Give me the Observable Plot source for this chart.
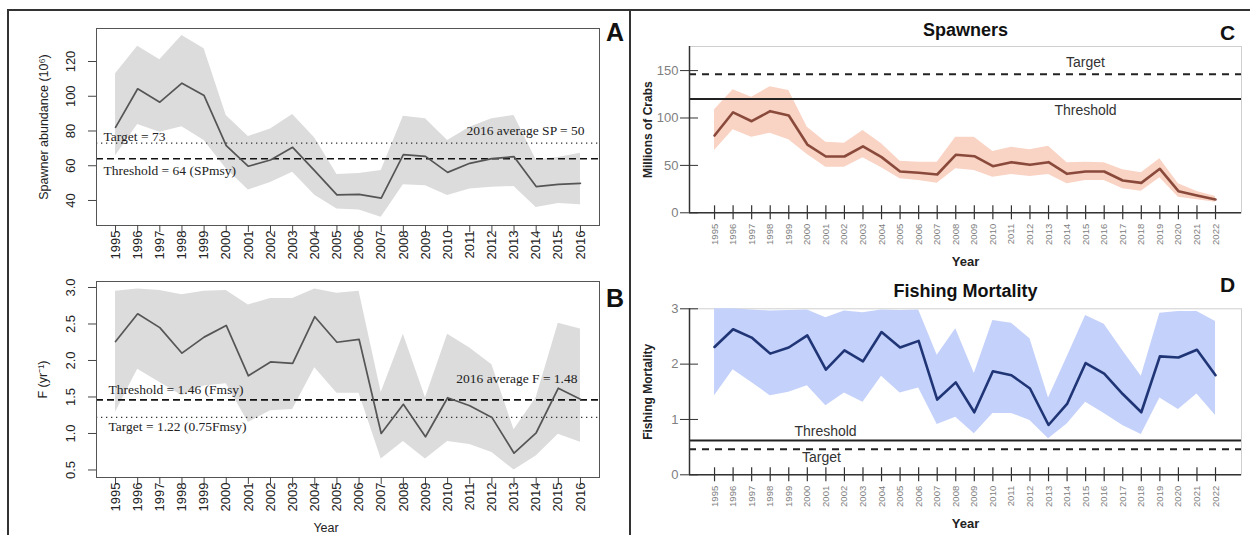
<!DOCTYPE html>
<html>
<head>
<meta charset="utf-8">
<script src="https://cdn.jsdelivr.net/npm/d3@7"></script>
<script src="https://cdn.jsdelivr.net/npm/@observablehq/plot@0.6"></script>
<style>
  html, body { margin: 0; padding: 0; background: #fff; }
  #root { position: relative; width: 1250px; height: 535px; overflow: hidden; background: #fff; font-family: "Liberation Sans", Arial, sans-serif; }
  .abs { position: absolute; }
  .bar { position: absolute; background: #333; }
  .plab { position: absolute; font-weight: bold; color: #111; line-height: 1; }
</style>
</head>
<body>
<div id="root">
  <div class="bar" style="left:7px;top:9px;width:1243px;height:2px"></div>
  <div class="bar" style="left:7px;top:9px;width:2px;height:526px"></div>
  <div class="bar" style="left:629px;top:9px;width:2px;height:526px"></div>
  <div id="pA" class="abs" style="left:0;top:0"></div>
  <div id="pB" class="abs" style="left:0;top:260px"></div>
  <div id="pC" class="abs" style="left:630px;top:0"></div>
  <div id="pD" class="abs" style="left:630px;top:268px"></div>
  <div class="plab" style="left:606px;top:20px;font-size:25px">A</div>
  <div class="plab" style="left:606px;top:286px;font-size:25px">B</div>
  <div class="plab" style="left:1220px;top:22px;font-size:21px">C</div>
  <div class="plab" style="left:1220px;top:274px;font-size:21px">D</div>
</div>
<script>
// ---------- data ----------
const yearsAB = [1995,1996,1997,1998,1999,2000,2001,2002,2003,2004,2005,2006,2007,2008,2009,2010,2011,2012,2013,2014,2015,2016];
const spawnA   = [82.1,104.3,96.6,107.5,100.4,71.6,59.7,63.3,70.6,57.0,43.2,43.5,41.4,66.4,65.4,56.2,61.4,64.1,65.2,48.0,49.3,49.9];
const spawnAHi = [112.9,128.8,121.0,135.0,127.3,88.9,76.8,81.2,89.5,76.0,55.0,55.6,57.2,88.5,87.0,74.5,82.1,87.0,88.9,63.3,64.8,67.2];
const spawnALo = [65.8,83.7,79.3,82.5,74.5,58.2,46.0,50.4,56.2,43.0,35.1,34.5,30.3,49.1,48.5,42.8,46.6,47.6,48.1,36.0,38.3,37.6];
const targetA = 73, thresholdA = 64, avgA = 50;
const yTicksA = [40, 60, 80, 100, 120];

const fB   = [2.26,2.64,2.45,2.10,2.32,2.48,1.79,1.98,1.96,2.60,2.25,2.29,1.00,1.40,0.955,1.49,1.38,1.22,0.73,1.01,1.62,1.47];
const fBHi = [2.95,2.98,2.96,2.90,2.95,2.96,2.76,2.85,2.85,2.98,2.92,2.95,1.56,2.36,1.49,2.36,2.17,1.94,1.05,1.49,2.51,2.43];
const fBLo = [1.29,1.88,1.70,1.52,1.65,1.68,1.15,1.31,1.33,1.90,1.55,1.55,0.65,0.89,0.65,0.89,0.85,0.74,0.50,0.69,0.99,0.88];
const thresholdB = 1.46, targetB = 1.22, avgB = 1.48;
const yTicksB = [0.5, 1.0, 1.5, 2.0, 2.5, 3.0];

const yearsCD = [1995,1996,1997,1998,1999,2000,2001,2002,2003,2004,2005,2006,2007,2008,2009,2010,2011,2012,2013,2014,2015,2016,2017,2018,2019,2020,2021,2022];
const spawnC   = [81.5,106,96.6,107.2,102.6,72,59.4,59.4,70,58.7,43.6,42.2,40.4,61.2,59.7,49.2,53.4,50.6,53.4,41.1,43.6,43.6,34.1,31.6,46.4,22.8,18.2,14];
const spawnCHi = [108.6,129.7,122,133,129,90.3,74.5,73.4,86.8,72.8,54.4,53.4,53.4,79.7,79.7,64.7,69.2,66.4,70.3,52.7,53.4,52.7,45.4,42.2,57,30.6,22.5,17.2];
const spawnCLo = [65.7,87.5,79.7,84,77,61.5,48.1,48.1,58,47.5,35.9,34.1,31.2,46.4,44.6,37.6,40.4,38.3,40.4,30.6,34.1,34.1,25.3,22.8,36.9,16.5,13.7,11.2];
const targetC = 146, thresholdC = 120;
const yTicksC = [0, 50, 100, 150];

const fD   = [2.31,2.63,2.48,2.19,2.30,2.52,1.90,2.25,2.05,2.58,2.30,2.42,1.36,1.67,1.13,1.87,1.80,1.56,0.90,1.28,2.02,1.83,1.46,1.13,2.14,2.12,2.26,1.80];
const fDHi = [3.0,3.0,2.98,2.96,2.97,2.98,2.84,2.96,2.93,2.98,2.97,2.98,2.16,2.64,1.83,2.79,2.74,2.46,1.39,2.13,2.88,2.72,2.24,1.78,2.92,2.95,2.95,2.77];
const fDLo = [1.43,1.90,1.67,1.43,1.49,1.61,1.25,1.48,1.31,1.78,1.48,1.57,0.91,1.04,0.74,1.11,1.11,0.98,0.65,0.92,1.31,1.11,0.89,0.73,1.39,1.18,1.46,1.07];
const thresholdD = 0.62, targetD = 0.46;
const yTicksD = [0, 1, 2, 3];

// ---------- helpers ----------
const SANS = '"Liberation Sans", Arial, sans-serif';
const SERIF = '"Liberation Serif", "Times New Roman", serif';
const rows = (years, v, lo, hi) => years.map((year, i) => ({year, v: v[i], lo: lo[i], hi: hi[i]}));
const xDomAB = [1994.14, 2016.86];
const xDomCD = [1993.65, 2023.4];

function leftPlot({data, yDomain, yTicks, yFmt, height, marginTop, marginBottom, ylabel, ylabelDx, rules, notes, extra}) {
  return Plot.plot({
    width: 625, height, marginLeft: 96, marginRight: 26, marginTop, marginBottom,
    style: {fontFamily: SANS, fontSize: "13px", color: "#222", background: "transparent", overflow: "visible"},
    x: {domain: xDomAB},
    y: {domain: yDomain},
    marks: [
      Plot.areaY(data, {x: "year", y1: "lo", y2: "hi", fill: "#dcdcdc"}),
      ...rules,
      Plot.lineY(data, {x: "year", y: "v", stroke: "#555", strokeWidth: 1.7}),
      Plot.frame({stroke: "#555", strokeWidth: 1}),
      Plot.axisX({ticks: yearsAB, tickSize: 7, tickFormat: () => "", label: null, stroke: "#444"}),
      Plot.axisX({ticks: yearsAB, tickSize: 0, tickPadding: 5, tickRotate: -90, tickFormat: d => String(d), label: null, fontSize: 13, fill: "#222"}),
      Plot.axisY({ticks: yTicks, tickSize: 8, tickFormat: () => "", label: null, stroke: "#444"}),
      Plot.text(yTicks, {y: d => d, frameAnchor: "left", dx: -26, rotate: -90, text: yFmt, textAnchor: "middle", lineAnchor: "middle", fontSize: 13, fill: "#222"}),
      Plot.text([ylabel], {frameAnchor: "left", dx: ylabelDx, rotate: -90, text: d => d, textAnchor: "middle", lineAnchor: "middle", fontSize: 12.5, fill: "#222"}),
      ...notes,
      ...(extra || [])
    ]
  });
}

// ---------- Panel A ----------
const dataA = rows(yearsAB, spawnA, spawnALo, spawnAHi);
document.getElementById("pA").append(leftPlot({
  data: dataA, yDomain: [25.6, 139], yTicks: yTicksA, yFmt: d => String(d),
  height: 260, marginTop: 28, marginBottom: 35,
  ylabel: "Spawner abundance (10⁶)", ylabelDx: -53,
  rules: [
    Plot.ruleY([targetA], {stroke: "#333", strokeDasharray: "1.3,3.7", strokeWidth: 1.4}),
    Plot.ruleY([thresholdA], {stroke: "#111", strokeDasharray: "7,4", strokeWidth: 1.6})
  ],
  notes: [
    Plot.text([targetA], {y: d => d, frameAnchor: "left", dx: 7, dy: -6, text: d => `Target = ${d}`, textAnchor: "start", lineAnchor: "middle", fontFamily: SERIF, fontSize: 13.5, fill: "#222"}),
    Plot.text([thresholdA], {y: d => d, frameAnchor: "left", dx: 7, dy: 12, text: d => `Threshold = ${d} (SPmsy)`, textAnchor: "start", lineAnchor: "middle", fontFamily: SERIF, fontSize: 13.5, fill: "#222"}),
    Plot.text([avgA], {y: () => targetA, frameAnchor: "right", dx: -15, dy: -12, text: d => `2016 average SP = ${d}`, textAnchor: "end", lineAnchor: "middle", fontFamily: SERIF, fontSize: 13.5, fill: "#222"})
  ]
}));

// ---------- Panel B ----------
const dataB = rows(yearsAB, fB, fBLo, fBHi);
document.getElementById("pB").append(leftPlot({
  data: dataB, yDomain: [0.397, 3.082], yTicks: yTicksB, yFmt: d => d.toFixed(1),
  height: 275, marginTop: 21, marginBottom: 58,
  ylabel: "F (yr⁻¹)", ylabelDx: -54,
  rules: [
    Plot.ruleY([targetB], {stroke: "#333", strokeDasharray: "1.3,3.7", strokeWidth: 1.4}),
    Plot.ruleY([thresholdB], {stroke: "#111", strokeDasharray: "7,4", strokeWidth: 1.6})
  ],
  notes: [
    Plot.text([thresholdB], {y: d => d, frameAnchor: "left", dx: 12, dy: -10.5, text: d => `Threshold = ${d.toFixed(2)} (Fmsy)`, textAnchor: "start", lineAnchor: "middle", fontFamily: SERIF, fontSize: 13.5, fill: "#222"}),
    Plot.text([targetB], {y: d => d, frameAnchor: "left", dx: 12, dy: 9.5, text: d => `Target = ${d.toFixed(2)} (0.75Fmsy)`, textAnchor: "start", lineAnchor: "middle", fontFamily: SERIF, fontSize: 13.5, fill: "#222"}),
    Plot.text([avgB], {y: () => thresholdB, frameAnchor: "right", dx: -22, dy: -21, text: d => `2016 average F = ${d.toFixed(2)}`, textAnchor: "end", lineAnchor: "middle", fontFamily: SERIF, fontSize: 13.5, fill: "#222"})
  ],
  extra: [
    Plot.text(["Year"], {frameAnchor: "bottom", dx: -22, dy: 50, text: d => d, textAnchor: "middle", lineAnchor: "middle", fontSize: 12.5, fill: "#222"})
  ]
}));

// ---------- right panels ----------
function rightPlot({data, yDomain, yTicks, height, marginTop, marginBottom, title, titleDy, ylabel, lineColor, bandColor, rules, notes}) {
  return Plot.plot({
    width: 620, height, marginLeft: 59, marginRight: 9, marginTop, marginBottom,
    style: {fontFamily: SANS, fontSize: "13px", color: "#333", background: "transparent", overflow: "visible"},
    x: {domain: xDomCD},
    y: {domain: yDomain},
    marks: [
      Plot.frame({stroke: "#cfcfcf", strokeWidth: 1}),
      Plot.areaY(data, {x: "year", y1: "lo", y2: "hi", fill: bandColor}),
      ...rules,
      Plot.lineY(data, {x: "year", y: "v", stroke: lineColor, strokeWidth: 2.6}),
      Plot.ruleY([yDomain[0]], {stroke: "#333", strokeWidth: 1.5}),
      Plot.ruleX([xDomCD[0]], {stroke: "#333", strokeWidth: 1.5}),
      // x ticks crossing the axis line
      Plot.ruleX(yearsCD, {x: d => d, y1: yDomain[0], y2: yDomain[0], insetTop: -7, insetBottom: -7, stroke: "#333", strokeWidth: 1.2}),
      Plot.axisX({ticks: yearsCD, tickSize: 0, tickPadding: 11, tickRotate: -90, tickFormat: d => String(d), label: null, fontSize: 9.5, fill: "#808080"}),
      Plot.axisY({ticks: yTicks, tickSize: 18, dx: 9, tickPadding: 2, tickFormat: d => String(d), label: null, fontSize: 13, fill: "#808080", stroke: "#333"}),
      Plot.text([ylabel], {frameAnchor: "left", dx: -41, rotate: -90, text: d => d, textAnchor: "middle", lineAnchor: "middle", fontSize: 12, fontWeight: "bold", fill: "#222"}),
      Plot.text([title], {frameAnchor: "top", dy: titleDy, text: d => d, textAnchor: "middle", lineAnchor: "middle", fontSize: 18, fontWeight: "bold", fill: "#111"}),
      Plot.text(["Year"], {frameAnchor: "bottom", dy: 48.7, text: d => d, textAnchor: "middle", lineAnchor: "middle", fontSize: 13, fontWeight: "bold", fill: "#222"}),
      ...notes
    ]
  });
}

// ---------- Panel C ----------
const dataC = rows(yearsCD, spawnC, spawnCLo, spawnCHi);
document.getElementById("pC").append(rightPlot({
  data: dataC, yDomain: [0, 175.4], yTicks: yTicksC, height: 268, marginTop: 46, marginBottom: 55.7,
  title: "Spawners", titleDy: -16, ylabel: "Millions of Crabs",
  lineColor: "#8a4a3b", bandColor: "#f9d3c4",
  rules: [
    Plot.ruleY([targetC], {stroke: "#222", strokeWidth: 2, strokeDasharray: "7,6"}),
    Plot.ruleY([thresholdC], {stroke: "#222", strokeWidth: 2})
  ],
  notes: [
    Plot.text(["Target"], {y: () => targetC, frameAnchor: "left", dx: 396, dy: -12, text: d => d, textAnchor: "middle", lineAnchor: "middle", fontSize: 14, fill: "#333"}),
    Plot.text(["Threshold"], {y: () => thresholdC, frameAnchor: "left", dx: 396, dy: 11, text: d => d, textAnchor: "middle", lineAnchor: "middle", fontSize: 14, fill: "#333"})
  ]
}));

// ---------- Panel D ----------
const dataD = rows(yearsCD, fD, fDLo, fDHi);
document.getElementById("pD").append(rightPlot({
  data: dataD, yDomain: [0, 3], yTicks: yTicksD, height: 267, marginTop: 40.3, marginBottom: 60.7,
  title: "Fishing Mortality", titleDy: -18, ylabel: "Fishing Mortality",
  lineColor: "#1f3576", bandColor: "#c4d1fa",
  rules: [
    Plot.ruleY([targetD], {stroke: "#222", strokeWidth: 2, strokeDasharray: "7,6"}),
    Plot.ruleY([thresholdD], {stroke: "#222", strokeWidth: 2})
  ],
  notes: [
    Plot.text(["Threshold"], {y: () => thresholdD, frameAnchor: "left", dx: 136, dy: -9, text: d => d, textAnchor: "middle", lineAnchor: "middle", fontSize: 14, fill: "#333"}),
    Plot.text(["Target"], {y: () => targetD, frameAnchor: "left", dx: 132, dy: 8, text: d => d, textAnchor: "middle", lineAnchor: "middle", fontSize: 14, fill: "#333"})
  ]
}));
</script>
</body>
</html>
